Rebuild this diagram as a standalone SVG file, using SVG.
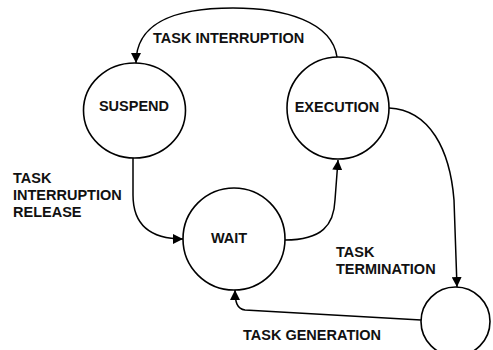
<svg xmlns="http://www.w3.org/2000/svg" width="493" height="350" viewBox="0 0 493 350">
  <defs>
    <marker id="arrow" viewBox="0 0 10 10" refX="10" refY="5" markerWidth="10" markerHeight="10" markerUnits="userSpaceOnUse" orient="auto">
      <path d="M0,0 L10,5 L0,10 z" fill="#000"/>
    </marker>
    <style>
      .state { fill: #fff; stroke: #000; stroke-width: 1.6; }
      .edge { fill: none; stroke: #000; stroke-width: 1.5; marker-end: url(#arrow); }
      .lbl { font-family: "Liberation Sans", Arial, sans-serif; font-size: 14.5px; font-weight: bold; fill: #111; }
      .mid { text-anchor: middle; }
    </style>
  </defs>
  <rect width="493" height="350" fill="#fff"/>

  <g id="connectors">
    <!-- EXECUTION to SUSPEND: task interruption -->
    <path class="edge" d="M337,57 C332,22 285,8 233,8 C175,8 136,22 136,63"/>
    <!-- SUSPEND to WAIT: interruption release -->
    <path class="edge" d="M133,158 L133,195 C133,225 150,239 183,239"/>
    <!-- WAIT to EXECUTION -->
    <path class="edge" d="M285,240 C322,240 334,225 335,200 L338,160"/>
    <!-- EXECUTION to terminated state -->
    <path class="edge" d="M389,108 C430,110 450,150 454,200 L457,287"/>
    <!-- terminated state back to WAIT: task generation -->
    <path class="edge" d="M421,320 L245,310 C237,309 235,302 235,290"/>
  </g>

  <g id="suspend">
    <ellipse class="state" cx="134.5" cy="110.5" rx="51" ry="47.5"/>
    <text class="lbl mid" x="134" y="111">SUSPEND</text>
  </g>
  <g id="execution">
    <circle class="state" cx="338" cy="108" r="51"/>
    <text class="lbl mid" x="337" y="112">EXECUTION</text>
  </g>
  <g id="wait">
    <circle class="state" cx="234" cy="239" r="51"/>
    <text class="lbl mid" x="229" y="243">WAIT</text>
  </g>
  <g id="terminated">
    <circle class="state" cx="455.5" cy="321.5" r="34.5"/>
  </g>

  <g id="labels">
    <text class="lbl" x="153" y="43">TASK INTERRUPTION</text>
    <text class="lbl" x="13" y="183">TASK</text>
    <text class="lbl" x="13" y="200">INTERRUPTION</text>
    <text class="lbl" x="13" y="217">RELEASE</text>
    <text class="lbl" x="336" y="257">TASK</text>
    <text class="lbl" x="336" y="274">TERMINATION</text>
    <text class="lbl" x="243" y="340">TASK GENERATION</text>
  </g>
</svg>
